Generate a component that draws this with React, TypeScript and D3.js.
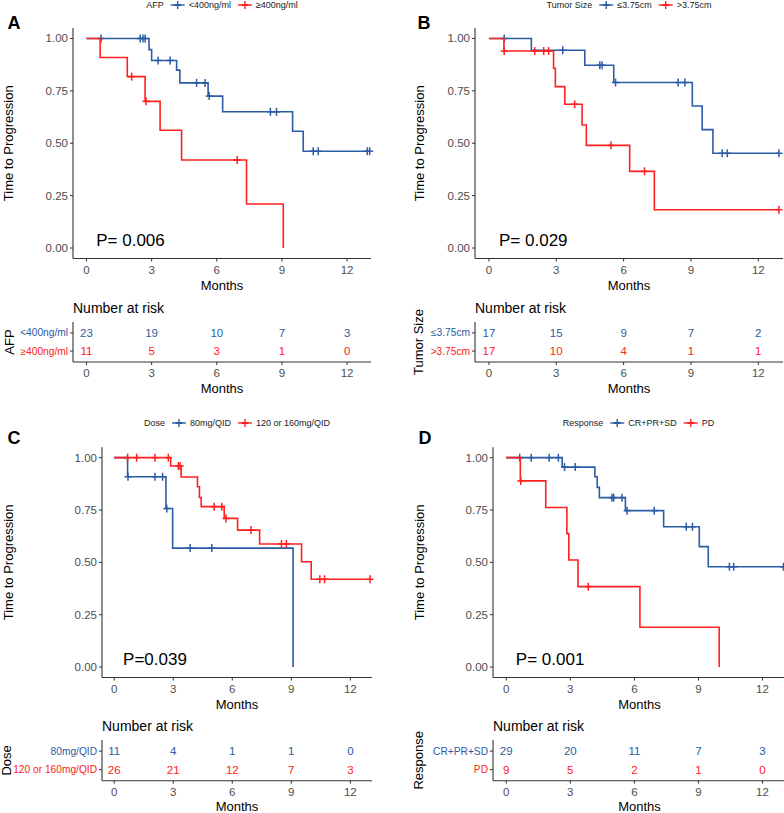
import React from 'react';
import * as d3 from 'd3';

const BLUE = '#2B5CA5';
const RED = '#FF2020';
const FONT = "'Liberation Sans', Arial, sans-serif";

const xTicks = [0, 3, 6, 9, 12];
const yTicks = [0, 0.25, 0.5, 0.75, 1];
const riskTimes = [0, 3, 6, 9, 12];

// A - AFP
const afpLowTimes = [0, 2.88, 3.0, 4.15, 4.3, 5.6, 6.27, 9.49, 9.98, 13.04];
const afpLowSurv = [1, 0.947, 0.895, 0.849, 0.788, 0.725, 0.65, 0.557, 0.462, 0.462];
const afpLowCensor = [0.67, 2.47, 2.6, 2.7, 3.3, 3.85, 5.07, 5.46, 5.65, 8.47, 8.75, 10.44, 10.67, 12.93, 13.04];
const afpHighTimes = [0, 0.63, 1.88, 2.7, 3.39, 4.38, 7.37, 9.06];
const afpHighSurv = [1, 0.909, 0.818, 0.7, 0.562, 0.42, 0.21, 0];
const afpHighCensor = [2.08, 2.74, 6.94];
const afpRiskLow = [23, 19, 10, 7, 3];
const afpRiskHigh = [11, 5, 3, 1, 0];

// B - tumor size
const sizeSmallTimes = [0, 1.89, 4.27, 5.56, 9.06, 9.5, 9.98, 12.92];
const sizeSmallSurv = [1, 0.944, 0.872, 0.79, 0.678, 0.565, 0.452, 0.452];
const sizeSmallCensor = [0.68, 3.29, 4.94, 5.04, 5.64, 8.43, 8.73, 10.39, 10.62, 12.92];
const sizeLargeTimes = [0, 0.67, 2.88, 2.96, 3.38, 4.15, 4.34, 6.27, 7.37, 12.92];
const sizeLargeSurv = [1, 0.94, 0.858, 0.77, 0.686, 0.587, 0.49, 0.366, 0.183, 0.183];
const sizeLargeCensor = [0.68, 2.04, 2.44, 2.66, 3.82, 5.44, 6.93, 12.92];
const sizeRiskSmall = [17, 15, 9, 7, 2];
const sizeRiskLarge = [17, 10, 4, 1, 1];

// C - dose
const doseLowTimes = [0, 0.68, 2.63, 2.97, 9.09];
const doseLowSurv = [1, 0.909, 0.757, 0.568, 0];
const doseLowCensor = [0.7, 2.07, 2.46, 2.67, 3.86, 4.96];
const doseHighTimes = [0, 2.87, 3.4, 4.23, 4.33, 4.42, 5.59, 6.27, 7.39, 9.52, 10.01, 13.0];
const doseHighSurv = [1, 0.96, 0.908, 0.861, 0.81, 0.766, 0.71, 0.654, 0.588, 0.503, 0.419, 0.419];
const doseHighCensor = [0.68, 1.14, 2.07, 2.75, 3.26, 3.35, 5.08, 5.47, 5.68, 6.95, 8.5, 8.75, 10.45, 10.69, 13.0];
const doseRiskLow = [11, 4, 1, 1, 0];
const doseRiskHigh = [26, 21, 12, 7, 3];

// D - response
const respGoodTimes = [0, 2.62, 4.15, 4.26, 4.36, 5.58, 7.37, 9.04, 9.46, 12.98];
const respGoodSurv = [1, 0.955, 0.909, 0.858, 0.809, 0.747, 0.67, 0.575, 0.479, 0.479];
const respGoodCensor = [0.63, 1.17, 2.01, 2.44, 2.73, 3.23, 4.95, 5.03, 5.42, 5.66, 6.93, 8.43, 8.72, 10.45, 10.65, 12.98];
const respPdTimes = [0, 0.66, 1.85, 2.84, 2.93, 3.36, 6.26, 9.97];
const respPdSurv = [1, 0.889, 0.762, 0.637, 0.511, 0.384, 0.19, 0];
const respPdCensor = [0.68, 3.84];
const respRiskGood = [29, 20, 11, 7, 3];
const respRiskPd = [9, 5, 2, 1, 0];

const panels = [
  {
    letter: 'A', title: 'AFP', pValue: 'P= 0.006',
    groups: [
      { label: '<400ng/ml', color: BLUE, times: afpLowTimes, surv: afpLowSurv, censor: afpLowCensor, risk: afpRiskLow },
      { label: '≥400ng/ml', color: RED, times: afpHighTimes, surv: afpHighSurv, censor: afpHighCensor, risk: afpRiskHigh },
    ],
    box: { left: 73, right: 371, top: 28, bottom: 258.5, legendY: 5, letterX: 14, letterY: 23, yTitleX: 8, tableTop: 322, tableBottom: 362, colX: 9 },
  },
  {
    letter: 'B', title: 'Tumor Size', pValue: 'P= 0.029',
    groups: [
      { label: '≤3.75cm', color: BLUE, times: sizeSmallTimes, surv: sizeSmallSurv, censor: sizeSmallCensor, risk: sizeRiskSmall },
      { label: '>3.75cm', color: RED, times: sizeLargeTimes, surv: sizeLargeSurv, censor: sizeLargeCensor, risk: sizeRiskLarge },
    ],
    box: { left: 475, right: 783, top: 28, bottom: 258.5, legendY: 5, letterX: 424, letterY: 23, yTitleX: 419, tableTop: 322, tableBottom: 362, colX: 418 },
  },
  {
    letter: 'C', title: 'Dose', pValue: 'P=0.039',
    groups: [
      { label: '80mg/QID', color: BLUE, times: doseLowTimes, surv: doseLowSurv, censor: doseLowCensor, risk: doseRiskLow },
      { label: '120 or 160mg/QID', color: RED, times: doseHighTimes, surv: doseHighSurv, censor: doseHighCensor, risk: doseRiskHigh },
    ],
    box: { left: 102, right: 372, top: 447.2, bottom: 677.5, legendY: 423, letterX: 14, letterY: 438, yTitleX: 8, tableTop: 740, tableBottom: 780.7, colX: 6 },
  },
  {
    letter: 'D', title: 'Response', pValue: 'P= 0.001',
    groups: [
      { label: 'CR+PR+SD', color: BLUE, times: respGoodTimes, surv: respGoodSurv, censor: respGoodCensor, risk: respRiskGood },
      { label: 'PD', color: RED, times: respPdTimes, surv: respPdSurv, censor: respPdCensor, risk: respRiskPd },
    ],
    box: { left: 493, right: 786, top: 447.2, bottom: 677.5, legendY: 423, letterX: 425, letterY: 438, yTitleX: 419, tableTop: 740, tableBottom: 780.7, colX: 418 },
  },
];

let measureCtx = null;
const textWidth = (s, size) => {
  if (!measureCtx) measureCtx = document.createElement('canvas').getContext('2d');
  measureCtx.font = `${size}px 'Liberation Sans', Arial, sans-serif`;
  return measureCtx.measureText(s).width;
};

const survAt = (times, surv, t) => {
  const i = d3.bisectRight(times, t) - 1;
  return surv[Math.max(0, i)];
};

const Legend = ({ panel, cx, y }) => {
  const size = 9;
  const keyW = 14;
  const items = [];
  let x = 0;
  items.push({ type: 'title', x, text: panel.title });
  x += textWidth(panel.title, size) + 7;
  panel.groups.forEach((g, i) => {
    items.push({ type: 'key', x, color: g.color });
    x += keyW + 4;
    items.push({ type: 'label', x, text: g.label });
    x += textWidth(g.label, size) + (i === 0 ? 7 : 0);
  });
  const start = cx - x / 2;
  return (
    <g transform={`translate(${start},${y})`} fontSize={size} fontFamily={FONT} fill="#222">
      {items.map((it, i) =>
        it.type === 'key' ? (
          <g key={i} stroke={it.color} strokeWidth={1.4}>
            <line x1={it.x} x2={it.x + keyW} y1={0} y2={0} />
            <line x1={it.x + keyW / 2 - 3.5} x2={it.x + keyW / 2 + 3.5} y1={0} y2={0} strokeWidth={2} />
            <line x1={it.x + keyW / 2} x2={it.x + keyW / 2} y1={-4} y2={4} />
          </g>
        ) : (
          <text key={i} x={it.x} y={0} dominantBaseline="central">{it.text}</text>
        )
      )}
    </g>
  );
};

const Panel = ({ panel }) => {
  const b = panel.box;
  const x = d3.scaleLinear().domain([-0.62, 13.1]).range([b.left, b.right]);
  const y = d3.scaleLinear().domain([-0.05, 1.05]).range([b.bottom, b.top]);
  const line = d3.line().x(d => x(d[0])).y(d => y(d[1])).curve(d3.curveStepAfter);
  const rowY = d3.scalePoint().domain(panel.groups.map(g => g.label)).range([b.tableTop, b.tableBottom]).padding(0.6);
  const axisColor = '#333';
  const tickColor = '#4D4D4D';
  const plotMid = (b.top + b.bottom) / 2;
  const tableMid = (b.tableTop + b.tableBottom) / 2;

  return (
    <g fontFamily={FONT}>
      <Legend panel={panel} cx={(b.left + Math.min(b.right, 784)) / 2} y={b.legendY} />
      <text x={b.letterX} y={b.letterY} fontSize={18} fontWeight="bold" textAnchor="middle" dominantBaseline="central">{panel.letter}</text>

      {/* survival curves */}
      {panel.groups.map((g, gi) => (
        <g key={gi}>
          <path d={line(g.times.map((t, i) => [t, g.surv[i]]))} fill="none" stroke={g.color} strokeWidth={1.6} />
          {g.censor.map((t, i) => {
            const cxp = x(t);
            const cyp = y(survAt(g.times, g.surv, t));
            return (
              <g key={i} stroke={g.color} strokeWidth={1.5}>
                <line x1={cxp - 3.5} x2={cxp + 3.5} y1={cyp} y2={cyp} />
                <line x1={cxp} x2={cxp} y1={cyp - 4} y2={cyp + 4} />
              </g>
            );
          })}
        </g>
      ))}

      {/* axes */}
      <line x1={b.left} x2={b.left} y1={b.top} y2={b.bottom} stroke={axisColor} strokeWidth={1.1} />
      <line x1={b.left} x2={b.right} y1={b.bottom} y2={b.bottom} stroke={axisColor} strokeWidth={1.1} />
      {yTicks.map(t => (
        <g key={t}>
          <line x1={b.left - 3} x2={b.left} y1={y(t)} y2={y(t)} stroke={axisColor} />
          <text x={b.left - 5} y={y(t)} fontSize={11.5} fill={tickColor} textAnchor="end" dominantBaseline="central">{d3.format('.2f')(t)}</text>
        </g>
      ))}
      {xTicks.map(t => (
        <g key={t}>
          <line x1={x(t)} x2={x(t)} y1={b.bottom} y2={b.bottom + 3} stroke={axisColor} />
          <text x={x(t)} y={b.bottom + 11} fontSize={11.5} fill={tickColor} textAnchor="middle" dominantBaseline="central">{t}</text>
        </g>
      ))}
      <text x={(b.left + b.right) / 2} y={b.bottom + 27} fontSize={13} textAnchor="middle" dominantBaseline="central">Months</text>
      <text transform={`translate(${b.yTitleX},${plotMid}) rotate(-90)`} fontSize={13} textAnchor="middle" dominantBaseline="central">Time to Progression</text>
      <text x={x(0.45)} y={y(0.035)} fontSize={17} dominantBaseline="central">{panel.pValue}</text>

      {/* risk table */}
      <text x={b.left} y={b.tableTop - 14} fontSize={14} dominantBaseline="central">Number at risk</text>
      <line x1={b.left} x2={b.left} y1={b.tableTop} y2={b.tableBottom} stroke={axisColor} strokeWidth={1.1} />
      <line x1={b.left} x2={b.right} y1={b.tableBottom} y2={b.tableBottom} stroke={axisColor} strokeWidth={1.1} />
      {panel.groups.map((g, gi) => (
        <g key={gi} fill={g.color}>
          <line x1={b.left - 3} x2={b.left} y1={rowY(g.label)} y2={rowY(g.label)} stroke={axisColor} />
          <text x={b.left - 5} y={rowY(g.label)} fontSize={10.2} textAnchor="end" dominantBaseline="central">{g.label}</text>
          {riskTimes.map((t, i) => (
            <text key={t} x={x(t)} y={rowY(g.label)} fontSize={11.5} textAnchor="middle" dominantBaseline="central">{g.risk[i]}</text>
          ))}
        </g>
      ))}
      {xTicks.map(t => (
        <g key={t}>
          <line x1={x(t)} x2={x(t)} y1={b.tableBottom} y2={b.tableBottom + 3} stroke={axisColor} />
          <text x={x(t)} y={b.tableBottom + 11} fontSize={11.5} fill={tickColor} textAnchor="middle" dominantBaseline="central">{t}</text>
        </g>
      ))}
      <text x={(b.left + b.right) / 2} y={b.tableBottom + 26} fontSize={13} textAnchor="middle" dominantBaseline="central">Months</text>
      <text transform={`translate(${b.colX},${tableMid}) rotate(-90)`} fontSize={13} textAnchor="middle" dominantBaseline="central">{panel.title}</text>
    </g>
  );
};

const App = () => (
  <svg width={784} height={813} style={{ position: 'absolute', left: 0, top: 0, background: '#fff' }}>
    {panels.map(p => <Panel key={p.letter} panel={p} />)}
  </svg>
);

export default App;
